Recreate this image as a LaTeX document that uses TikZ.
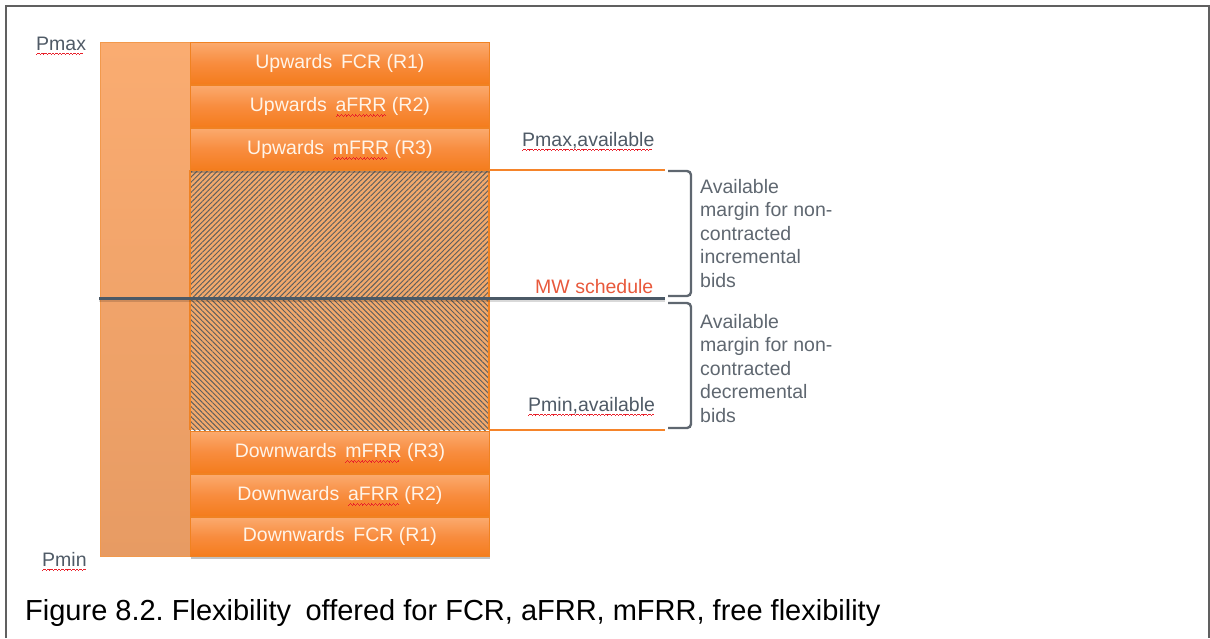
\documentclass[tikz,border=0pt]{standalone}
\usepackage{fontspec}
\setmainfont{Liberation Sans}
\usetikzlibrary{patterns.meta,shadows}

\definecolor{frameInk}{HTML}{606060}
\definecolor{barTop}{HTML}{FAAC71}
\definecolor{barBot}{HTML}{E79B63}
\definecolor{barEdge}{HTML}{F2994C}
\definecolor{boxTop}{HTML}{FBAA6E}
\definecolor{boxMid}{HTML}{F88C3E}
\definecolor{boxBot}{HTML}{F47C1C}
\definecolor{boxEdge}{HTML}{F08222}
\definecolor{hatchBg}{HTML}{F2A96C}
\definecolor{hatchInk}{HTML}{5E5E5E}
\definecolor{orangeLine}{HTML}{F5842A}
\definecolor{schedLine}{HTML}{4B5966}
\definecolor{bracketInk}{HTML}{5F6770}
\definecolor{labelInk}{HTML}{4F5A66}
\definecolor{schedInk}{HTML}{E8593C}
\definecolor{spellred}{HTML}{E8202A}
\definecolor{boxInk}{HTML}{FFF4E8}

% red wavy underline under flagged words, built from tiny rules
\newcommand\wavecell{\hbox{\rule[-5.0pt]{0.9pt}{0.9pt}\rule[-4.2pt]{0.9pt}{0.9pt}\rule[-3.4pt]{0.9pt}{0.9pt}\rule[-4.2pt]{0.9pt}{0.9pt}}}
\newsavebox\wavedword
\newcommand\spellwave[1]{\sbox\wavedword{#1}\rlap{\smash{\hbox to\wd\wavedword{\color{spellred}\leaders\wavecell\hfill}}}\usebox\wavedword}

\begin{document}
\begin{tikzpicture}[x=1pt,y=-1pt,
  font=\fontsize{19.5}{23.5}\selectfont\frenchspacing,
  resbox/.style={draw=boxEdge, line width=0.8pt,
    top color=boxTop, bottom color=boxBot, middle color=boxMid,
    minimum width=299, anchor=north west, inner sep=0, text=boxInk,
    drop shadow={shadow xshift=0.6pt, shadow yshift=-2.2pt, opacity=0.35, fill=black!70}},
  tallbar/.style={draw=barEdge, line width=0.8pt, top color=barTop, bottom color=barBot,
    minimum width=90, minimum height=514, anchor=north west, inner sep=0},
  lbl/.style={text=labelInk, inner sep=0, anchor=base west},
  side/.style={text=bracketInk, inner sep=0, anchor=north west, align=left},
  level/.style={orangeLine, line width=2pt},
  bracket/.style={bracketInk, line width=2.4pt, rounded corners=4pt}
]
\useasboundingbox (0,0) rectangle (1210,638);

% outer frame (open at the bottom)
\draw[frameInk, line width=2.2pt] (6,638) -- (6,6) -- (1209,6) -- (1209,638);

% full unit range
\node[tallbar] (bar) at (100,42) {};

% hatched free margins
\fill[hatchBg] (190,170) rectangle (489,430);
\fill[pattern={Lines[angle=45,distance=3.6pt,line width=0.95pt]}, pattern color=hatchInk]
  (190,170) rectangle (489,298);
\fill[pattern={Lines[angle=-45,distance=3.6pt,line width=0.95pt]}, pattern color=hatchInk]
  (190,298) rectangle (489,430);
\draw[boxEdge, line width=1.2pt] (190,170) -- (190,430) (489,170) -- (489,430);

% contracted reserves
\node[resbox, minimum height=42] (ufcr)  at (190,42)  {Upwards\hspace{.45em}FCR (R1)};
\node[resbox, minimum height=42] (uafrr) at (190,85)  {Upwards\hspace{.45em}\spellwave{aFRR} (R2)};
\node[resbox, minimum height=42] (umfrr) at (190,128) {Upwards\hspace{.45em}\spellwave{mFRR} (R3)};
\node[resbox, minimum height=42] (dmfrr) at (190,431) {Downwards\hspace{.45em}\spellwave{mFRR} (R3)};
\node[resbox, minimum height=42] (dafrr) at (190,474) {Downwards\hspace{.45em}\spellwave{aFRR} (R2)};
\node[resbox, minimum height=39] (dfcr)  at (190,517) {Downwards\hspace{.45em}FCR (R1)};

% available limits
\coordinate (pmaxL) at (489,170); \coordinate (pmaxR) at (665,170);
\coordinate (pminL) at (489,430); \coordinate (pminR) at (665,430);
\draw[level] (pmaxL) -- (pmaxR);
\draw[level] (pminL) -- (pminR);

% schedule line
\coordinate (schedL) at (99,298); \coordinate (schedR) at (665,298);
\draw[black, opacity=0.15, line width=2pt] ([yshift=-3pt]schedL) -- ([yshift=-3pt]schedR);
\draw[schedLine, line width=3pt] (schedL) -- (schedR);

% braces for the free margins
\coordinate (b1a) at (668,171); \coordinate (b1b) at (668,296);
\coordinate (b2a) at (668,303); \coordinate (b2b) at (668,428);
\draw[bracket] (b1a) -- ++(23,0) |- (b1b);
\draw[bracket] (b2a) -- ++(23,0) |- (b2b);

% labels
\node[lbl] (pmax) at (36,50) {\spellwave{Pmax}};
\node[lbl] (pmin) at (42,566) {\spellwave{Pmin}};
\node[lbl] (pmaxav) at (522,146) {\spellwave{Pmax,available}};
\node[lbl, text=schedInk] (sched) at (535,293) {MW schedule};
\node[lbl] (pminav) at (528,411) {\spellwave{Pmin,available}};

\node[side] (incr) at (700,179) {Available\\margin for non-\\contracted\\incremental\\bids};
\node[side] (decr) at (700,314) {Available\\margin for non-\\contracted\\decremental\\bids};

% caption
\node[anchor=base west, inner sep=0, font=\fontsize{29}{31}\selectfont\frenchspacing] (cap) at (25,620)
  {Figure 8.2. Flexibility\hspace{.5em}offered for FCR, aFRR, mFRR, free flexibility};
\end{tikzpicture}
\end{document}
